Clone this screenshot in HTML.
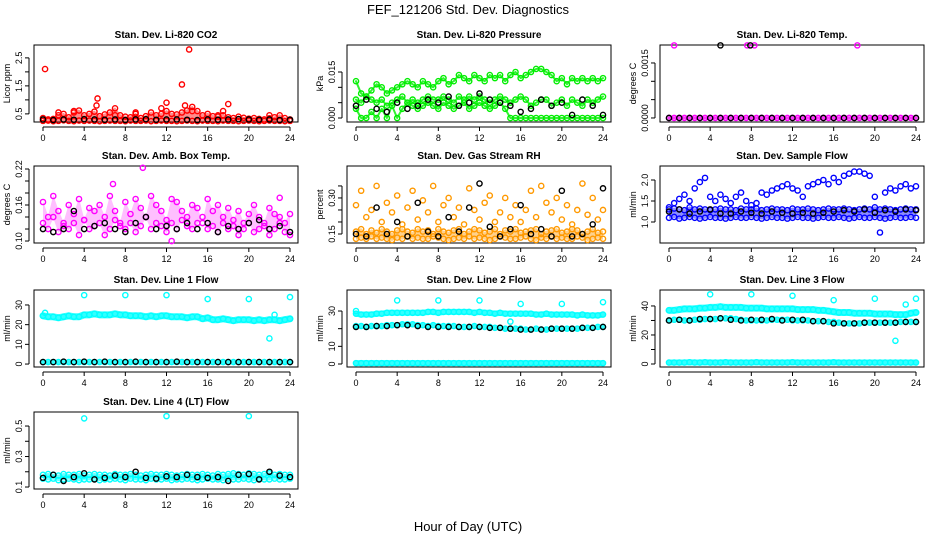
<!DOCTYPE html>
<html><head><meta charset="utf-8"><style>
html,body{margin:0;padding:0;background:#fff;}
svg{display:block;font-family:"Liberation Sans",sans-serif;}
</style></head><body>
<svg id="chart" width="936" height="540" viewBox="0 0 936 540" xmlns="http://www.w3.org/2000/svg">
<text x="468" y="14" text-anchor="middle" font-size="13">FEF_121206  Std. Dev. Diagnostics</text>
<text x="468" y="531" text-anchor="middle" font-size="13">Hour of Day (UTC)</text>
</svg>
<script>
// ---- data ----
const xTicks=[0,4,8,12,16,20,24];
// CO2
const co2RedLo=[0.25,0.26,0.24,0.25,0.27,0.25,0.24,0.26,0.25,0.26,0.25,0.24,0.25,0.26,0.25,0.25,0.24,0.26,0.25,0.25,0.26,0.24,0.25,0.26,0.25,0.25,0.24,0.25,0.26,0.25,0.24,0.26,0.25,0.25,0.24,0.26,0.25,0.25,0.24,0.25,0.26,0.25,0.24,0.25,0.26,0.25,0.25,0.24,0.25];
const co2RedHi=[0.35,0.3,0.32,0.45,0.5,0.38,0.55,0.62,0.45,0.5,0.58,0.42,0.48,0.55,0.7,0.45,0.4,0.38,0.5,0.35,0.42,0.55,0.45,0.5,0.6,0.5,0.48,0.55,0.62,0.75,0.6,0.45,0.5,0.42,0.4,0.45,0.38,0.35,0.4,0.36,0.33,0.35,0.32,0.3,0.34,0.38,0.45,0.35,0.3];
const co2SpikeH=[0.2,1.5,3,5.2,5.3,7,9,11.5,12,13.5,13.8,14.2,14.5,17,17.5,18,22];
const co2SpikeV=[2.1,0.55,0.6,0.8,1.05,0.45,0.55,0.7,0.9,1.55,0.8,2.8,0.6,0.45,0.6,0.85,0.45];
const co2Black=[0.3,0.28,0.3,0.29,0.31,0.3,0.29,0.3,0.28,0.3,0.31,0.29,0.3,0.3,0.29,0.28,0.3,0.29,0.3,0.31,0.3,0.29,0.3,0.28,0.29];
// Pressure
const presUp=[0.012,0.008,0.007,0.009,0.011,0.010,0.008,0.009,0.010,0.011,0.012,0.011,0.010,0.012,0.011,0.010,0.012,0.013,0.011,0.012,0.014,0.013,0.012,0.014,0.013,0.012,0.014,0.013,0.014,0.012,0.014,0.015,0.013,0.014,0.015,0.016,0.016,0.015,0.014,0.012,0.013,0.011,0.013,0.012,0.013,0.012,0.013,0.012,0.013];
const presMid=[0.006,0.005,0.007,0.006,0.005,0.006,0.004,0.005,0.006,0.007,0.005,0.006,0.005,0.006,0.007,0.006,0.006,0.007,0.006,0.005,0.007,0.006,0.007,0.006,0.007,0.006,0.005,0.006,0.007,0.006,0.005,0.006,0.007,0.006,0.004,0.005,0.006,0.006,0.004,0.005,0.006,0.004,0.006,0.005,0.004,0.006,0.005,0.006,0.007];
const presZero=[0.003,0.0,0.0,0.002,0.0,0.003,0.0,0.004,0.0,0.003,0.005,0.004,0.003,0.004,0.005,0.004,0.003,0.005,0.004,0.003,0.004,0.005,0.003,0.004,0.005,0.004,0.003,0.004,0.005,0.003,0.0,0.0,0.0,0.0,0.0,0.0,0.0,0.0,0.0,0.0,0.0,0.0,0.0,0.0,0.0,0.0,0.0,0.0,0.0];
const presBlack=[0.004,0.006,0.003,0.002,0.005,0.003,0.004,0.006,0.005,0.007,0.004,0.005,0.008,0.006,0.005,0.004,0.002,0.003,0.006,0.004,0.005,0.001,0.006,0.004,0.001];
// Li-820 temp
const tempMag=[0,0,0,0,0,0,0,0,0,0,0,0,0,0,0,0,0,0,0,0,0,0,0,0,0,0,0,0,0,0,0,0,0,0,0,0,0,0,0,0,0,0,0,0,0,0,0,0,0];
const tempTopH=[0.5,7.6,8.3,18.3];
const tempTopV=[0.00198,0.00198,0.00198,0.00198];
const tempBlack=[0,0,0,0,0,0,0,0,0,0,0,0,0,0,0,0,0,0,0,0,0,0,0,0,0];
const tempBlackTopH=[5,7.9];
const tempBlackTopV=[0.00198,0.00198];
// Amb box temp
const boxA=[0.165,0.14,0.175,0.15,0.13,0.16,0.145,0.17,0.135,0.155,0.15,0.16,0.14,0.175,0.15,0.13,0.165,0.145,0.17,0.155,0.14,0.175,0.16,0.15,0.135,0.17,0.165,0.15,0.14,0.16,0.155,0.13,0.17,0.15,0.16,0.14,0.155,0.135,0.15,0.13,0.145,0.16,0.14,0.13,0.155,0.145,0.14,0.13,0.145];
const boxB=[0.13,0.12,0.14,0.115,0.125,0.12,0.13,0.11,0.135,0.12,0.125,0.13,0.11,0.12,0.135,0.125,0.12,0.13,0.115,0.125,0.14,0.12,0.13,0.125,0.115,0.13,0.12,0.135,0.125,0.12,0.13,0.14,0.12,0.125,0.115,0.13,0.12,0.125,0.11,0.12,0.13,0.115,0.12,0.125,0.11,0.12,0.13,0.115,0.11];
const boxOutH=[6.8,9.7,12.5,23];
const boxOutV=[0.195,0.222,0.10,0.172];
const boxBlack=[0.12,0.115,0.12,0.15,0.12,0.125,0.13,0.12,0.115,0.13,0.14,0.12,0.125,0.12,0.13,0.12,0.13,0.115,0.125,0.12,0.13,0.135,0.12,0.125,0.115];
// RH
const rhLo=[0.13,0.135,0.13,0.14,0.13,0.135,0.13,0.125,0.135,0.13,0.14,0.13,0.135,0.13,0.13,0.14,0.135,0.13,0.125,0.13,0.135,0.13,0.14,0.13,0.135,0.13,0.125,0.13,0.14,0.135,0.13,0.13,0.135,0.14,0.13,0.125,0.135,0.13,0.14,0.13,0.135,0.13,0.13,0.14,0.135,0.125,0.13,0.135,0.13];
const rhHi=[0.16,0.17,0.15,0.165,0.155,0.17,0.16,0.15,0.165,0.17,0.16,0.155,0.17,0.16,0.165,0.15,0.17,0.16,0.155,0.165,0.17,0.15,0.16,0.17,0.165,0.155,0.16,0.17,0.15,0.165,0.16,0.17,0.155,0.16,0.165,0.17,0.15,0.16,0.165,0.17,0.155,0.16,0.17,0.165,0.15,0.16,0.17,0.155,0.16];
const rhScat=[0.27,0.33,0.22,0.25,0.35,0.2,0.28,0.24,0.31,0.19,0.26,0.33,0.21,0.29,0.24,0.35,0.2,0.27,0.3,0.22,0.26,0.19,0.34,0.25,0.21,0.28,0.31,0.2,0.24,0.3,0.22,0.27,0.2,0.25,0.33,0.22,0.35,0.28,0.24,0.3,0.21,0.27,0.19,0.25,0.36,0.23,0.3,0.21,0.25];
const rhBlack=[0.15,0.14,0.26,0.15,0.2,0.14,0.28,0.16,0.14,0.22,0.16,0.26,0.36,0.18,0.14,0.17,0.27,0.15,0.17,0.14,0.33,0.14,0.15,0.19,0.34];
// Sample flow
const sfLo=[1.1,1.12,1.08,1.1,1.12,1.1,1.08,1.1,1.12,1.1,1.1,1.08,1.1,1.12,1.1,1.1,1.12,1.1,1.08,1.1,1.12,1.1,1.1,1.08,1.1,1.12,1.1,1.1,1.08,1.1,1.12,1.1,1.1,1.12,1.1,1.08,1.1,1.12,1.1,1.1,1.12,1.1,1.08,1.1,1.12,1.1,1.1,1.12,1.1];
const sfHi=[1.3,1.32,1.3,1.28,1.35,1.3,1.32,1.3,1.28,1.3,1.32,1.3,1.3,1.28,1.32,1.3,1.3,1.32,1.28,1.3,1.32,1.3,1.3,1.28,1.32,1.3,1.3,1.32,1.3,1.28,1.3,1.32,1.3,1.3,1.32,1.3,1.28,1.3,1.32,1.3,1.35,1.3,1.32,1.3,1.28,1.3,1.32,1.3,1.3];
const sfUp=[1.35,1.45,1.55,1.65,1.5,1.8,1.95,2.05,1.6,1.5,1.65,1.55,1.45,1.6,1.7,1.5,1.4,1.45,1.7,1.65,1.75,1.8,1.85,1.9,1.8,1.75,1.6,1.85,1.9,1.95,2.0,1.9,2.05,1.95,2.1,2.15,2.2,2.2,2.15,2.1,1.6,0.75,1.7,1.8,1.75,1.85,1.9,1.8,1.85];
const sfBlack=[1.25,1.3,1.2,1.25,1.3,1.2,1.2,1.25,1.22,1.2,1.25,1.22,1.2,1.22,1.2,1.22,1.25,1.28,1.25,1.3,1.22,1.28,1.25,1.3,1.28];
// Line 1
const l1Band=[24.5,24,24,23.5,24,24.5,24,24,25,25,25.5,25,25,25,25.5,25,25,24.5,24.5,24.5,24,24.5,24,24.5,24.5,24,24,24,23.5,24,24,23,23.5,22.5,22.5,23,22.5,22,22.5,22.5,22.5,22,22.5,22,22.5,22.5,22,22.5,23];
const l1Zero=[1,1,1,1,1,1,1,1,1,1,1,1,1,1,1,1,1,1,1,1,1,1,1,1,1,1,1,1,1,1,1,1,1,1,1,1,1,1,1,1,1,1,1,1,1,1,1,1,1];
const l1OutH=[0.2,4,8,12,16,20,22,22.5,24];
const l1OutV=[26,35,35,35,33,33,13,25,34];
const l1Black=[1,1,1.2,1,1.2,1,1.2,1,1,1.2,1,1,1,1.2,1,1,1,1,1,1,1,1,1,1,1];
// Line 2
const l2Up=[28.5,28,28,28,28.5,28.5,29,29,29,29,29,29,29,29,29.5,29.5,29,29.5,29.5,29.5,29.5,29.5,29.5,29,29.5,29,29,28.5,29,28.5,28.5,28.5,28.5,28.5,28.5,28,28,28.5,28,28,28,28,28,27.5,28,27.5,27.5,27.5,28];
const l2Mid=[21.5,21.5,21,21.5,21.5,21.5,22,22,22,22.5,22.5,22.5,22,22,21.5,22,21.5,21.5,21.5,21.5,21,21,21,21.5,21,21,21,20.5,20.5,20,20,20,20,19.5,19.5,20,19.5,19.5,20,20,20,20,20,20,20.5,20.5,20.5,21,21];
const l2Zero=[0.5,0.5,0.5,0.5,0.5,0.5,0.5,0.5,0.5,0.5,0.5,0.5,0.5,0.5,0.5,0.5,0.5,0.5,0.5,0.5,0.5,0.5,0.5,0.5,0.5,0.5,0.5,0.5,0.5,0.5,0.5,0.5,0.5,0.5,0.5,0.5,0.5,0.5,0.5,0.5,0.5,0.5,0.5,0.5,0.5,0.5,0.5,0.5,0.5];
const l2OutH=[0,4,8,12,15,16,20,24];
const l2OutV=[30,36,36,36,24,34,34,35];
const l2Black=[21,21,21.5,21.5,22,22,21.5,21,21,21,21,21,21,20.5,20.5,20,19.5,19.5,19.5,20,20,20,20.5,20.5,21];
// Line 3
const l3Up=[37,37,37.5,38,38,38,38.5,38.5,39,39,39.5,39,39,39,39,38.5,38.5,38.5,38.5,38,38,38,38,38,38,37.5,37.5,37.5,37.5,37,37,36.5,36,35.5,35.5,35.5,35,35,35,35,34.5,34.5,34.5,34.5,34,34,34,35,35.5];
const l3Mid=[30,30.5,30.5,30,30,30.5,30.5,31,31,31,31.5,31.5,31.5,31,30.5,30,30,30,30,30,30.5,30.5,30.5,30.5,30,30,30,30,29.5,29.5,29.5,29,29,28.5,28,28,28,28,28.5,28.5,28.5,28.5,28.5,28.5,28.5,29,29,29,29];
const l3Zero=[1,1,1,1,1.2,1,1,1.2,1,1,1,1.2,1,1,1,1,1,1.2,1,1,1,1,1,1,1.2,1,1,1,1,1,1,1,1.2,1,1,1,1,1,1,1,1,1,1,1,1,1,1,1,1];
const l3OutH=[4,8,12,16,20,22,23,24];
const l3OutV=[48,48,47,44,45,16,41,45];
const l3Black=[30,30.5,30,31,31,31.5,30.5,30,30.5,30.5,31,30,30.5,30.5,29.5,29.5,28,28,28,28.5,28.5,28.5,28.5,29,29];
// Line 4
const l4Lo=[0.155,0.15,0.155,0.145,0.15,0.155,0.15,0.145,0.15,0.15,0.155,0.145,0.15,0.15,0.155,0.15,0.145,0.155,0.15,0.15,0.145,0.155,0.15,0.15,0.155,0.145,0.15,0.15,0.155,0.15,0.145,0.15,0.155,0.15,0.15,0.145,0.155,0.15,0.15,0.155,0.15,0.145,0.155,0.15,0.15,0.155,0.15,0.15,0.155];
const l4Hi=[0.18,0.185,0.18,0.175,0.185,0.18,0.18,0.185,0.175,0.18,0.185,0.18,0.18,0.175,0.185,0.18,0.18,0.185,0.18,0.175,0.18,0.185,0.18,0.18,0.185,0.18,0.175,0.18,0.185,0.18,0.18,0.185,0.18,0.175,0.185,0.18,0.185,0.19,0.185,0.18,0.19,0.185,0.18,0.185,0.19,0.18,0.185,0.18,0.18];
const l4OutH=[4,12,20];
const l4OutV=[0.55,0.565,0.565];
const l4Black=[0.16,0.18,0.14,0.165,0.19,0.15,0.16,0.175,0.165,0.2,0.16,0.155,0.17,0.165,0.18,0.165,0.16,0.165,0.14,0.18,0.185,0.15,0.2,0.175,0.165];
// ---- layout ----
const NS="http://www.w3.org/2000/svg";
const svg=document.getElementById('chart');
const colL=[34,347,660], rowT=[45,166,290,412], PW=264, PH=77;
function mk(tag,attrs,parent){const e=document.createElementNS(NS,tag);for(const k in attrs)e.setAttribute(k,attrs[k]);(parent||svg).appendChild(e);return e;}
function evenHours(n){const h=[];for(let i=0;i<n;i++)h.push(i*24/(n-1));return h;}
const panels=[
 {c:0,r:0,title:"Stan. Dev. Li-820 CO2",yl:"Licor ppm",dom:[0.21,2.96],ticks:[0.5,1.0,1.5,2.0,2.5],labels:["0.5","","1.5","","2.5"],
  ribbons:[[co2RedLo,co2RedHi,"#ff0000",0.45]],
  series:[[null,co2RedLo,"#ff0000",0],[null,co2RedHi,"#ff0000",0],[co2SpikeH,co2SpikeV,"#ff0000",0],[null,co2Black,"#000",0]]},
 {c:1,r:0,title:"Stan. Dev. Li-820 Pressure",yl:"kPa",dom:[-0.0013,0.0238],ticks:[0,0.005,0.010,0.015],labels:["0.000","","","0.015"],
  ribbons:[],
  series:[[null,presUp,"#00ee00",2],[null,presMid,"#00ee00",2],[null,presZero,"#00ee00",2],[null,presBlack,"#000",0]]},
 {c:2,r:0,title:"Stan. Dev. Li-820 Temp.",yl:"degrees C",dom:[-0.00011,0.00199],ticks:[0,0.0005,0.001,0.0015],labels:["0.0000","","","0.0015"],
  ribbons:[],
  series:[[null,tempMag,"#ff00ff",3],[tempTopH,tempTopV,"#ff00ff",0],[null,tempBlack,"#000",0],[tempBlackTopH,tempBlackTopV,"#000",0]]},
 {c:0,r:1,title:"Stan. Dev. Amb. Box Temp.",yl:"degrees C",dom:[0.0967,0.225],ticks:[0.10,0.12,0.14,0.16,0.18,0.20,0.22],labels:["0.10","","","0.16","","","0.22"],
  ribbons:[[boxB,boxA,"#ff00ff",0.25]],
  series:[[null,boxA,"#ff00ff",0],[null,boxB,"#ff00ff",0],[boxOutH,boxOutV,"#ff00ff",0],[null,boxBlack,"#000",0]]},
 {c:1,r:1,title:"Stan. Dev. Gas Stream RH",yl:"percent",dom:[0.1125,0.433],ticks:[0.15,0.20,0.25,0.30,0.35],labels:["0.15","","","0.30",""],
  ribbons:[[rhLo,rhHi,"#ff9900",0.45]],
  series:[[null,rhLo,"#ff9900",0],[null,rhHi,"#ff9900",0],[null,rhScat,"#ff9900",0],[null,rhBlack,"#000",0]]},
 {c:2,r:1,title:"Stan. Dev. Sample Flow",yl:"ml/min",dom:[0.5,2.333],ticks:[1.0,1.5,2.0],labels:["1.0","1.5","2.0"],
  ribbons:[[sfLo,sfHi,"#0000ff",0.45]],
  series:[[null,sfLo,"#0000ff",0],[null,sfHi,"#0000ff",0],[null,sfUp,"#0000ff",0],[null,sfBlack,"#000",0]]},
 {c:0,r:2,title:"Stan. Dev. Line 1 Flow",yl:"ml/min",dom:[-1.5,37.6],ticks:[0,10,20,30],labels:["0","10","20","30"],
  ribbons:[],
  series:[[null,l1Band,"#00ffff",7],[null,l1Zero,"#00ffff",4],[l1OutH,l1OutV,"#00ffff",0],[null,l1Black,"#000",0]]},
 {c:1,r:2,title:"Stan. Dev. Line 2 Flow",yl:"ml/min",dom:[-1.7,41.9],ticks:[0,10,20,30],labels:["0","10","","30"],
  ribbons:[],
  series:[[null,l2Up,"#00ffff",6],[null,l2Mid,"#00ffff",4],[null,l2Zero,"#00ffff",6],[l2OutH,l2OutV,"#00ffff",0],[null,l2Black,"#000",0]]},
 {c:2,r:2,title:"Stan. Dev. Line 3 Flow",yl:"ml/min",dom:[-2.07,51],ticks:[0,10,20,30,40],labels:["0","","20","","40"],
  ribbons:[],
  series:[[null,l3Up,"#00ffff",7],[null,l3Mid,"#00ffff",4],[null,l3Zero,"#00ffff",6],[l3OutH,l3OutV,"#00ffff",0],[null,l3Black,"#000",0]]},
 {c:0,r:3,title:"Stan. Dev. Line 4 (LT) Flow",yl:"ml/min",dom:[0.087,0.592],ticks:[0.1,0.2,0.3,0.4,0.5],labels:["0.1","","0.3","","0.5"],
  ribbons:[[l4Lo,l4Hi,"#00ffff",0.6]],
  series:[[null,l4Lo,"#00ffff",0],[null,l4Hi,"#00ffff",0],[l4OutH,l4OutV,"#00ffff",0],[null,l4Black,"#000",0]]}
];
panels.forEach((p,pi)=>{
  const L=colL[p.c],T=rowT[p.r];
  const xs=h=>L+9+h/24*(PW-17);
  const ys=v=>T+PH-(v-p.dom[0])/(p.dom[1]-p.dom[0])*PH;
  const g=mk('g',{});
  
  
  const t=mk('text',{x:L+PW/2,y:T-7,'text-anchor':'middle','font-size':10,'font-weight':'bold'},g);
  t.textContent=p.title;
  
  
  const yl=mk('text',{x:0,y:0,'text-anchor':'middle','font-size':9,transform:`translate(${L-24},${T+PH/2}) rotate(-90)`},g);
  yl.textContent=p.yl;
  
  
  const xa=mk('g',{},g);
  
  
  mk('line',{x1:xs(0),x2:xs(24),y1:T+PH+5,y2:T+PH+5,stroke:'#000','stroke-width':1},xa);
  xTicks.forEach(v=>{
    mk('line',{x1:xs(v),x2:xs(v),y1:T+PH+5,y2:T+PH+9,stroke:'#000','stroke-width':1},xa);
    const tl=mk('text',{x:xs(v),y:T+PH+19,'text-anchor':'middle','font-size':9},xa);
    tl.textContent=v;
    
    
  });
  const ya=mk('g',{},g);
  
  
  mk('line',{x1:L-5,x2:L-5,y1:ys(p.ticks[0]),y2:ys(p.ticks[p.ticks.length-1]),stroke:'#000','stroke-width':1},ya);
  p.ticks.forEach((v,i)=>{
    mk('line',{x1:L-9,x2:L-5,y1:ys(v),y2:ys(v),stroke:'#000','stroke-width':1},ya);
    if(p.labels[i]){
      const tl=mk('text',{x:0,y:0,'text-anchor':'middle','font-size':9,transform:`translate(${L-12},${ys(v)}) rotate(-90)`},ya);
      tl.textContent=p.labels[i];
      
      
    }
  });
  const box=mk('rect',{x:L,y:T,width:PW,height:PH,fill:'none',stroke:'#000','stroke-width':1},g);
  
  
  p.ribbons.forEach(rb=>{
    const lo=rb[0],hi=rb[1],h=evenHours(lo.length);
    const pts=[];
    hi.forEach((v,i)=>pts.push(xs(h[i])+','+(ys(v)-1)));
    for(let i=lo.length-1;i>=0;i--)pts.push(xs(h[i])+','+(ys(lo[i])+1));
    const pg=mk('polygon',{points:pts.join(' '),fill:rb[2],'fill-opacity':rb[3],stroke:'none'},g);
    
    
  });
  p.series.forEach(s=>{
    const vals=s[1];
    const hrs=s[0]||evenHours(vals.length);
    if(s[3]>0){
      const pl=mk('polyline',{points:vals.map((v,i)=>xs(hrs[i])+','+ys(v)).join(' '),fill:'none',stroke:s[2],'stroke-width':s[3],'stroke-linejoin':'round','stroke-linecap':'round','stroke-opacity':0.8},g);
      
      
    }
    const sg=mk('g',{fill:'none',stroke:s[2],'stroke-width':1.4},g);
    
    
    vals.forEach((v,i)=>{
      const c=mk('circle',{cx:xs(hrs[i]),cy:ys(v),r:2.6},sg);
      
      
    });
  });
});
</script>
</body></html>
